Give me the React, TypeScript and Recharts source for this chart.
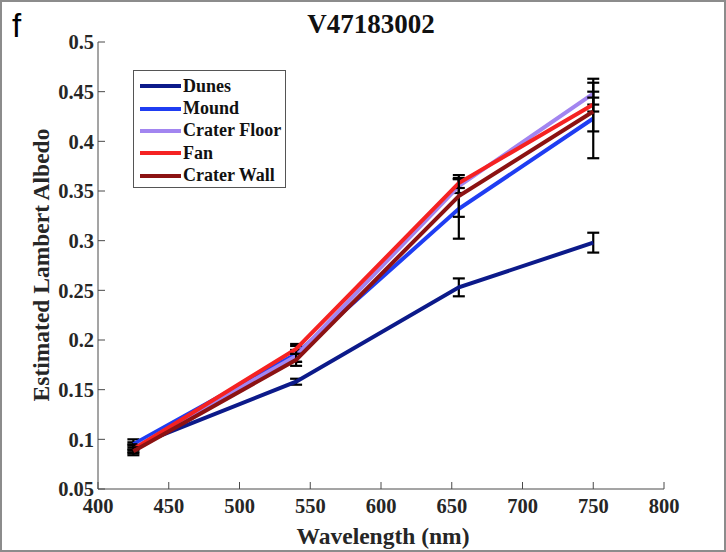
import React from 'react';
import {
  ComposedChart,
  Line,
  XAxis,
  YAxis,
  ErrorBar,
  Legend,
  Customized,
} from 'recharts';

// wavelengths (nm) of the four filters
const wavelengths = [425, 540, 655, 750];

const dunes = [0.093, 0.158, 0.253, 0.298];
const dunesErr = [0.004, 0.003, 0.009, 0.01];
const mound = [0.095, 0.186, 0.332, 0.423];
const moundErr = [0.005, 0.008, 0.03, 0.04];
const craterFloor = [0.091, 0.184, 0.355, 0.448];
const craterFloorErr = [0.004, 0.006, 0.007, 0.011];
const fan = [0.09, 0.191, 0.358, 0.437];
const fanErr = [0.004, 0.005, 0.005, 0.007];
const craterWall = [0.088, 0.18, 0.345, 0.43];
const craterWallErr = [0.004, 0.006, 0.021, 0.02];

const xTicks = [400, 450, 500, 550, 600, 650, 700, 750, 800];
const yTicks = [0.05, 0.1, 0.15, 0.2, 0.25, 0.3, 0.35, 0.4, 0.45, 0.5];

const series = [
  { key: 'dunes', name: 'Dunes', color: '#0c1a8a', values: dunes, err: dunesErr },
  { key: 'mound', name: 'Mound', color: '#1f3df2', values: mound, err: moundErr },
  { key: 'craterFloor', name: 'Crater Floor', color: '#a285f0', values: craterFloor, err: craterFloorErr },
  { key: 'fan', name: 'Fan', color: '#f52222', values: fan, err: fanErr },
  { key: 'craterWall', name: 'Crater Wall', color: '#8c1212', values: craterWall, err: craterWallErr },
];

const rows = wavelengths.map((wl, i) => {
  const row: Record<string, number> = { wl };
  series.forEach((s) => {
    row[s.key] = s.values[i];
    row[s.key + 'Err'] = s.err[i];
  });
  return row;
});

const serif = '"Liberation Serif", "Times New Roman", serif';
const axisColor = '#4a4a4a';
const tickStyle = { fill: '#262626', fontFamily: serif, fontWeight: 700, fontSize: 20.5 };

const LegendBox = () => (
  <div
    style={{
      width: 153,
      height: 118,
      boxSizing: 'border-box',
      border: '1px solid #555',
      background: '#fff',
      padding: '4px 0 0 6px',
      fontFamily: serif,
      fontWeight: 700,
      fontSize: 18,
      color: '#111',
    }}
  >
    {series.map((s) => (
      <div key={s.key} style={{ display: 'flex', alignItems: 'center', height: 22.4 }}>
        <span style={{ display: 'inline-block', width: 41, height: 4, background: s.color, marginRight: 2 }} />
        <span>{s.name}</span>
      </div>
    ))}
  </div>
);

// title, panel letter and axis titles
const Texts = () => (
  <g>
    <text x={12} y={37} fontFamily='"Liberation Sans", Arial, sans-serif' fontSize={33} fill="#000">
      f
    </text>
    <text x={371} y={33} textAnchor="middle" fontFamily={serif} fontWeight={700} fontSize={27} fill="#111">
      V47183002
    </text>
    <text x={383} y={544} textAnchor="middle" fontFamily={serif} fontWeight={700} fontSize={23.5} fill="#262626">
      Wavelength (nm)
    </text>
    <text
      x={49}
      y={265}
      textAnchor="middle"
      transform="rotate(-90 49 265)"
      fontFamily={serif}
      fontWeight={700}
      fontSize={23.5}
      fill="#262626"
    >
      Estimated Lambert Albedo
    </text>
  </g>
);

export default function App() {
  return (
    <div style={{ position: 'absolute', left: 0, top: 0, width: 726, height: 552, background: '#fff' }}>
      <ComposedChart width={726} height={552} data={rows} margin={{ top: 42, right: 62, bottom: 0, left: 0 }}>
        <XAxis
          dataKey="wl"
          type="number"
          domain={[400, 800]}
          ticks={xTicks}
          height={63}
          tickSize={-7}
          tickMargin={16}
          tick={tickStyle}
          axisLine={{ stroke: axisColor }}
          tickLine={{ stroke: axisColor }}
        />
        <XAxis
          xAxisId="top"
          orientation="top"
          type="number"
          domain={[400, 800]}
          ticks={xTicks}
          height={0}
          tickSize={-7}
          tickFormatter={() => ''}
          axisLine={{ stroke: axisColor }}
          tickLine={{ stroke: axisColor }}
        />
        <YAxis
          type="number"
          domain={[0.05, 0.5]}
          ticks={yTicks}
          width={98}
          tickSize={-7}
          tickMargin={11}
          tick={tickStyle}
          axisLine={{ stroke: axisColor }}
          tickLine={{ stroke: axisColor }}
        />
        <YAxis
          yAxisId="right"
          orientation="right"
          type="number"
          domain={[0.05, 0.5]}
          ticks={yTicks}
          width={0}
          tickSize={-7}
          tickFormatter={() => ''}
          axisLine={{ stroke: axisColor }}
          tickLine={{ stroke: axisColor }}
        />
        {series.map((s) => (
          <Line
            key={s.key}
            dataKey={s.key}
            name={s.name}
            stroke={s.color}
            strokeWidth={4}
            dot={false}
            isAnimationActive={false}
          >
            <ErrorBar dataKey={s.key + 'Err'} stroke="#000" strokeWidth={2.2} width={6} />
          </Line>
        ))}
        <Legend
          align="center"
          verticalAlign="middle"
          content={<LegendBox />}
          wrapperStyle={{ left: 133, top: 70, width: 153, height: 118 }}
        />
        <Customized component={<Texts />} />
      </ComposedChart>
      <div
        style={{
          position: 'absolute',
          left: 0,
          top: 0,
          width: 726,
          height: 552,
          boxSizing: 'border-box',
          border: '2px solid #8c8c8c',
          pointerEvents: 'none',
        }}
      />
    </div>
  );
}
